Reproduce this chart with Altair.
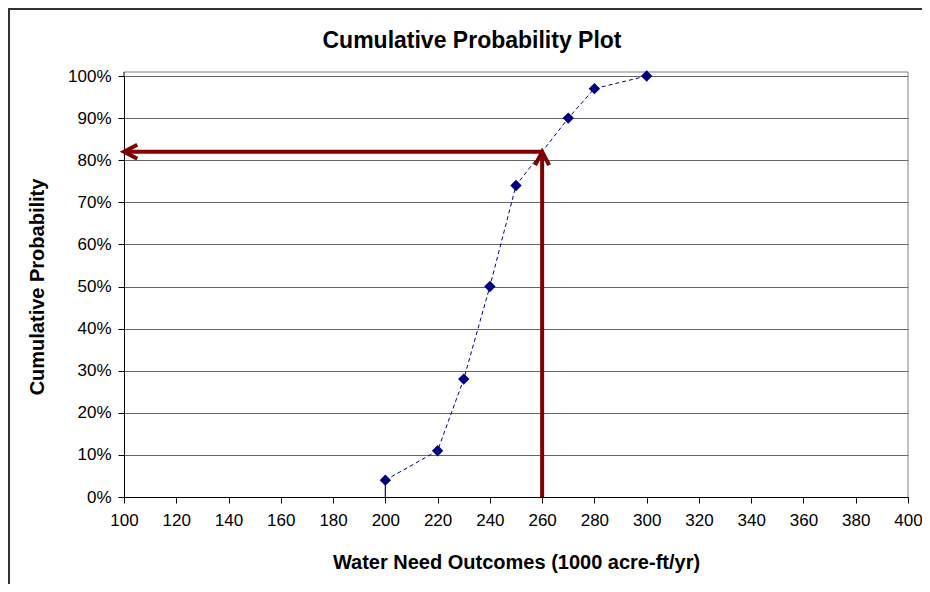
import altair as alt
import pandas as pd

# ---- data ----
water_need = [200, 200, 220, 230, 240, 250, 270, 280, 300]
cum_prob = [0.0, 0.04, 0.11, 0.28, 0.50, 0.74, 0.90, 0.97, 1.00]
x_ticks = [100, 120, 140, 160, 180, 200, 220, 240, 260, 280, 300, 320, 340, 360, 380, 400]
y_ticks = [0.0, 0.1, 0.2, 0.3, 0.4, 0.5, 0.6, 0.7, 0.8, 0.9, 1.0]
arrow_x = 260
arrow_y = 0.82
x_min, x_max = 100, 400

chart_title = "Cumulative Probability Plot"
x_title = "Water Need Outcomes (1000 acre-ft/yr)"
y_title = "Cumulative Probability"

W, H = 784, 421
FONT = "Liberation Sans"
NAVY = "#000080"
RED = "#800000"

line_df = pd.DataFrame({"x": water_need, "y": cum_prob, "order": list(range(len(water_need)))})
pts_df = line_df.iloc[1:].reset_index(drop=True)
first_seg = line_df.iloc[:2].reset_index(drop=True)

xs = alt.Scale(domain=[x_min, x_max], nice=False, zero=False)
ys = alt.Scale(domain=[0, 1], nice=False, zero=True)

x_axis = alt.Axis(values=x_ticks, format="d", grid=False, tickSize=6, tickColor="black",
                  domainColor="black", labelFont=FONT, labelFontSize=17, labelColor="black",
                  labelPadding=9, labelFlush=False, labelOverlap=False,
                  title=x_title, titleFont=FONT, titleFontSize=20,
                  titleFontWeight="bold", titleColor="black", titleY=65,
                  titleBaseline="middle")
y_axis = alt.Axis(values=y_ticks, format=".0%", grid=True, gridColor="#666666", gridWidth=1,
                  tickSize=6, tickColor="black", domainColor="black", labelFont=FONT,
                  labelFontSize=17, labelColor="black", labelPadding=7, labelFlush=False,
                  labelOverlap=False, title=y_title,
                  titleFont=FONT, titleFontSize=20, titleFontWeight="bold", titleColor="black",
                  titleAngle=-90, titleX=-87, titleY=H / 2, titleAlign="center",
                  titleBaseline="middle")

base_line = alt.Chart(pts_df).mark_line(color=NAVY, strokeWidth=1, strokeDash=[4, 3]).encode(
    x=alt.X("x:Q", scale=xs, axis=x_axis),
    y=alt.Y("y:Q", scale=ys, axis=y_axis),
    order="order:Q",
)
first_line = alt.Chart(first_seg).mark_line(color=NAVY, strokeWidth=1.2).encode(
    x=alt.X("x:Q", scale=xs),
    y=alt.Y("y:Q", scale=ys),
    order="order:Q",
)

points = alt.Chart(pts_df).mark_point(shape="diamond", filled=True, color=NAVY, size=130, opacity=1).encode(
    x=alt.X("x:Q", scale=xs),
    y=alt.Y("y:Q", scale=ys),
)

h_arrow_df = pd.DataFrame({"x": [arrow_x], "x2": [x_min], "y": [arrow_y]})
v_arrow_df = pd.DataFrame({"x": [arrow_x], "y": [0.0], "y2": [arrow_y]})

h_arrow = alt.Chart(h_arrow_df).mark_rule(color=RED, strokeWidth=4).encode(
    x=alt.X("x:Q", scale=xs), x2="x2:Q", y=alt.Y("y:Q", scale=ys))
v_arrow = alt.Chart(v_arrow_df).mark_rule(color=RED, strokeWidth=4).encode(
    x=alt.X("x:Q", scale=xs), y=alt.Y("y:Q", scale=ys), y2="y2:Q")

h_head = alt.Chart(h_arrow_df).mark_point(
    shape="M 1.9 -1 L 0 0 L 1.9 1", filled=False, color=RED, strokeWidth=4, size=196, opacity=1
).encode(x=alt.X("x2:Q", scale=xs), y=alt.Y("y:Q", scale=ys))
v_head = alt.Chart(v_arrow_df).mark_point(
    shape="M -1 1.9 L 0 0 L 1 1.9", filled=False, color=RED, strokeWidth=4, size=196, opacity=1
).encode(x=alt.X("x:Q", scale=xs), y=alt.Y("y2:Q", scale=ys))

one = pd.DataFrame({"t": [chart_title]})

title_mark = alt.Chart(one).mark_text(font=FONT, fontSize=23, fontWeight="bold", color="black",
                                      align="center", baseline="middle").encode(
    x=alt.value(348), y=alt.value(-35), text="t:N")

# plot-area frame (grey top and right edge) and outer chart border
frame_top = alt.Chart(one).mark_rule(color="#808080", strokeWidth=1).encode(
    x=alt.value(0), x2=alt.value(W), y=alt.value(-4))
frame_right = alt.Chart(one).mark_rule(color="#808080", strokeWidth=1).encode(
    x=alt.value(W), y=alt.value(-4), y2=alt.value(H))
frame_left = alt.Chart(one).mark_rule(color="black", strokeWidth=1).encode(
    x=alt.value(0), y=alt.value(-4), y2=alt.value(0))
outer_top = alt.Chart(one).mark_rule(color="#333333", strokeWidth=2).encode(
    x=alt.value(-116), x2=alt.value(W + 14), y=alt.value(-67))
outer_left = alt.Chart(one).mark_rule(color="#333333", strokeWidth=2).encode(
    x=alt.value(-115), y=alt.value(-68), y2=alt.value(H + 87))

chart = alt.layer(
    base_line, first_line, frame_top, frame_right, frame_left, points, h_arrow, v_arrow,
    h_head, v_head, title_mark, outer_top, outer_left,
).properties(
    width=W, height=H,
    autosize=alt.AutoSizeParams(type="none"),
    padding={"left": 116, "top": 68, "right": 14, "bottom": 87},
    background="white",
).configure_view(stroke=None)

chart.save("out.html", embed_options={"renderer": "svg", "actions": False})
